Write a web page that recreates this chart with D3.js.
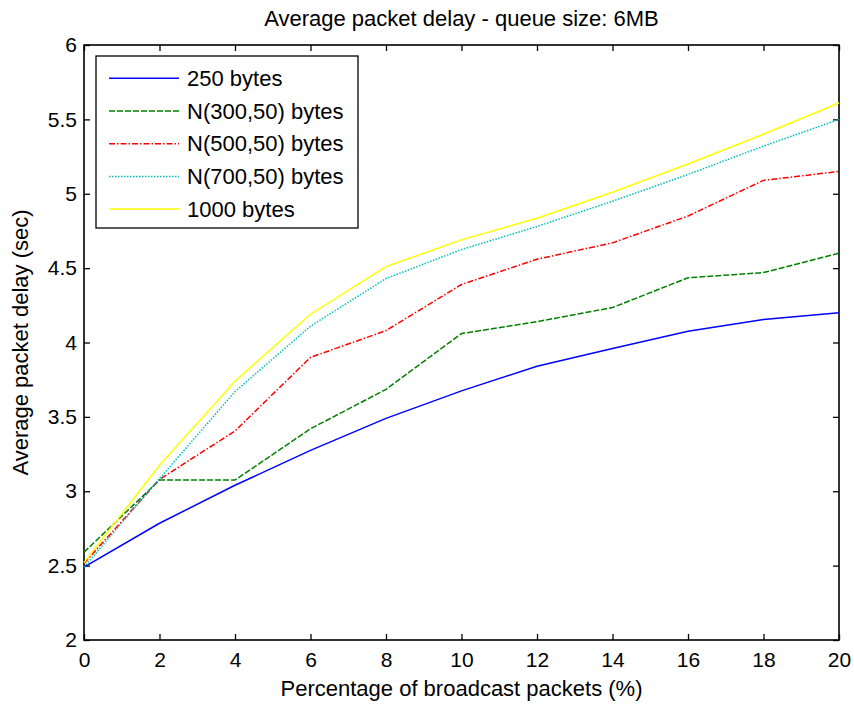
<!DOCTYPE html>
<html>
<head>
<meta charset="utf-8">
<script src="https://cdn.jsdelivr.net/npm/d3@7"></script>
<style>
  body { margin: 0; background: #fff; }
  svg { font-family: "Liberation Sans", Arial, sans-serif; }
</style>
</head>
<body>
<div id="chart"></div>
<script>
// data
const broadcastPct = [0, 2, 4, 6, 8, 10, 12, 14, 16, 18, 20];
const delay250 = [2.49, 2.785, 3.04, 3.275, 3.49, 3.675, 3.84, 3.96, 4.075, 4.155, 4.2];
const delayN300 = [2.59, 3.075, 3.075, 3.42, 3.685, 4.06, 4.14, 4.235, 4.435, 4.47, 4.6];
const delayN500 = [2.515, 3.08, 3.405, 3.9, 4.08, 4.39, 4.56, 4.67, 4.85, 5.09, 5.15];
const delayN700 = [2.49, 3.085, 3.67, 4.11, 4.43, 4.625, 4.78, 4.95, 5.13, 5.32, 5.5];
const delay1000 = [2.52, 3.175, 3.74, 4.19, 4.51, 4.69, 4.835, 5.01, 5.2, 5.4, 5.61];
const seriesNames = ["250 bytes", "N(300,50) bytes", "N(500,50) bytes", "N(700,50) bytes", "1000 bytes"];
const xTicks = [0, 2, 4, 6, 8, 10, 12, 14, 16, 18, 20];
const yTicks = [2, 2.5, 3, 3.5, 4, 4.5, 5, 5.5, 6];

const seriesValues = [delay250, delayN300, delayN500, delayN700, delay1000];
const colors = ["#0000ff", "#008000", "#ff0000", "#00bfbf", "#ffff00"];
const dashes = [null, "6,2", "6,2,1.5,2", "1.5,1.5", null];

const W = 854, H = 704;
const margin = { top: 45, right: 15, bottom: 64, left: 84 };
const width = W - margin.left - margin.right,
  height = H - margin.top - margin.bottom;

const svg = d3.select("#chart").append("svg")
  .attr("width", W).attr("height", H);

const g = svg.append("g")
  .attr("transform", `translate(${margin.left}, ${margin.top})`);

const xScale = d3.scaleLinear().domain([0, 20]).range([0, width]);
const yScale = d3.scaleLinear().domain([2, 6]).range([height, 0]);

// axes, ticks pointing inward, mirrored on top and right
const xAxis = d3.axisBottom(xScale).tickValues(xTicks).tickSizeInner(-6).tickSizeOuter(0).tickPadding(12);
const yAxis = d3.axisLeft(yScale).tickValues(yTicks).tickFormat(d3.format("")).tickSizeInner(-6).tickSizeOuter(0).tickPadding(7);

g.append("g").attr("class", "x-axis")
  .attr("transform", `translate(0, ${height})`).call(xAxis);
g.append("g").attr("class", "y-axis").call(yAxis);
g.append("g")
  .call(d3.axisTop(xScale).tickValues(xTicks).tickSizeInner(-6).tickSizeOuter(0).tickFormat(""));
g.append("g").attr("transform", `translate(${width},0)`)
  .call(d3.axisRight(yScale).tickValues(yTicks).tickSizeInner(-6).tickSizeOuter(0).tickFormat(""));

g.selectAll(".domain").remove();
g.selectAll(".tick line").attr("stroke", "#000").attr("stroke-width", 1.3);
g.selectAll(".tick text").attr("font-size", 21).attr("fill", "#000")
  .attr("font-family", "'Liberation Sans', Arial, sans-serif");

g.append("rect")
  .attr("width", width).attr("height", height)
  .attr("fill", "none").attr("stroke", "#000").attr("stroke-width", 1.6);

// lines
const line = d3.line()
  .x((d, i) => xScale(broadcastPct[i]))
  .y(d => yScale(d));

seriesValues.forEach((vals, i) => {
  g.append("path")
    .datum(vals)
    .attr("fill", "none")
    .attr("stroke", colors[i])
    .attr("stroke-width", 1.5)
    .attr("stroke-dasharray", dashes[i])
    .attr("d", line);
});

// legend
const legend = g.append("g").attr("transform", "translate(12, 11)");
legend.append("rect")
  .attr("width", 262).attr("height", 172)
  .attr("fill", "#fff").attr("stroke", "#000").attr("stroke-width", 1.3);

seriesNames.forEach((name, i) => {
  const yy = 22.3 + i * 32.7;
  legend.append("line")
    .attr("x1", 13).attr("x2", 83).attr("y1", yy).attr("y2", yy)
    .attr("stroke", colors[i]).attr("stroke-width", 1.5)
    .attr("stroke-dasharray", dashes[i]);
  legend.append("text")
    .attr("x", 91).attr("y", yy + 7.5)
    .attr("font-size", 22)
    .text(name);
});

// titles
svg.append("text")
  .attr("x", margin.left + width / 2).attr("y", 26)
  .attr("text-anchor", "middle").attr("font-size", 22)
  .text("Average packet delay - queue size: 6MB");

svg.append("text")
  .attr("x", margin.left + width / 2).attr("y", 696)
  .attr("text-anchor", "middle").attr("font-size", 22)
  .text("Percentage of broadcast packets (%)");

svg.append("text")
  .attr("transform", `translate(28, ${margin.top + height / 2}) rotate(-90)`)
  .attr("text-anchor", "middle").attr("font-size", 22)
  .text("Average packet delay (sec)");
</script>
</body>
</html>
